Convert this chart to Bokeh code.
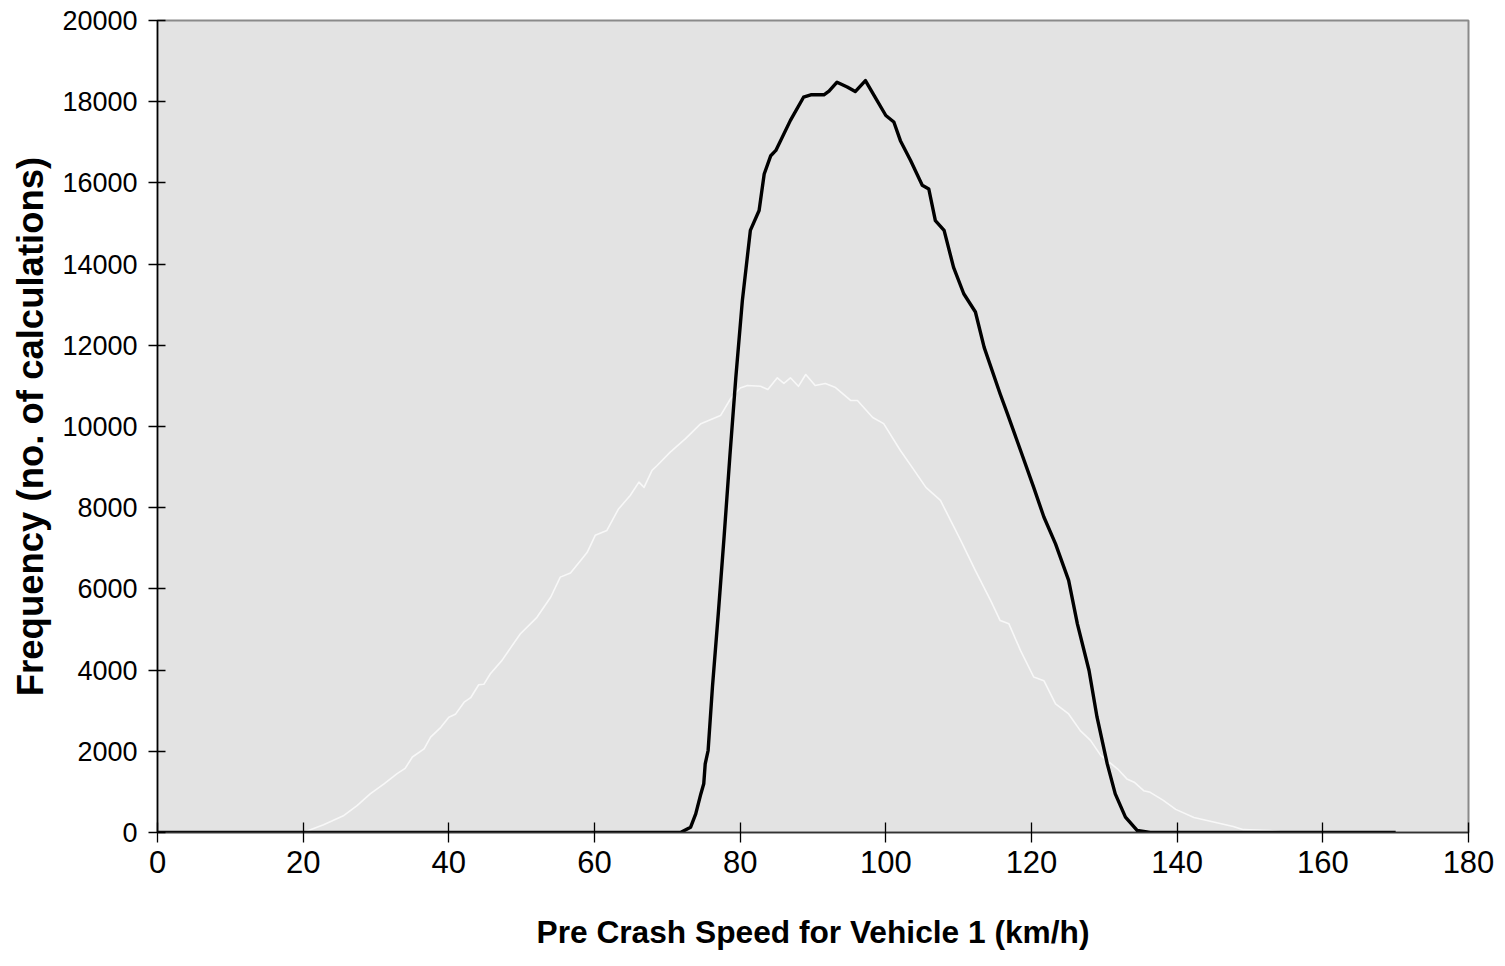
from bokeh.plotting import figure
from bokeh.models import Range1d, FixedTicker, ColumnDataSource
from bokeh.embed import file_html
from bokeh.resources import INLINE

# Series 1 (black, thick): pre-crash speed (km/h) vs frequency
speed_v1 = [0, 71.0, 71.8, 73.2, 73.9, 74.6, 75.0, 75.2, 75.6, 76.2, 77.0, 77.8, 78.6, 79.4, 80.3,
            81.4, 82.6, 83.3, 84.2, 84.9, 86.9, 88.7, 89.7, 91.5, 92.2, 93.3, 94.7, 95.8, 97.2,
            98.4, 100.0, 101.1, 102.0, 103.4, 105.0, 105.9, 106.8, 108.0, 109.3, 110.7, 112.3,
            113.5, 115.7, 116.7, 118.5, 120.3, 121.7, 123.3, 125.1, 126.3, 127.9, 129.0, 130.4,
            131.5, 132.9, 134.5, 136.3, 170]
freq_v1 = [0, 0, 0, 130, 460, 950, 1200, 1690, 2020, 3600, 5400, 7300, 9300, 11200, 13100,
           14830, 15320, 16220, 16670, 16800, 17540, 18110, 18170, 18170, 18260, 18480, 18360,
           18250, 18520, 18150, 17660, 17500, 17040, 16550, 15940, 15850, 15070, 14830, 13920,
           13270, 12820, 11950, 10800, 10310, 9410, 8500, 7770, 7110, 6210, 5140, 3990, 2840,
           1690, 950, 380, 50, 0, 0]

# Series 2 (white, thin)
speed_v2 = [0, 20.0, 22.8, 25.6, 27.4, 29.2, 31.1, 32.9, 34.0, 35.0, 36.6, 37.5, 38.9, 40.0, 40.9,
            42.1, 43.0, 44.1, 44.8, 45.7, 47.3, 49.8, 52.1, 54.0, 55.3, 56.7, 58.1, 59.0, 60.1,
            61.7, 63.3, 64.9, 66.1, 66.8, 67.9, 68.6, 70.4, 72.5, 74.6, 77.3, 78.7, 80.0, 81.0,
            82.8, 83.8, 85.1, 86.0, 86.9, 88.0, 89.0, 90.3, 91.7, 93.1, 95.2, 96.1, 98.2, 99.7,
            102.0, 103.9, 105.5, 107.5, 110.3, 112.3, 114.4, 115.7, 116.9, 118.5, 120.3, 121.7,
            123.3, 125.1, 126.7, 128.1, 129.5, 131.8, 133.1, 134.1, 135.4, 136.3, 138.1, 139.8,
            142.3, 147.7, 149.1, 152.8, 155.0, 170]
freq_v2 = [0, 0, 190, 420, 660, 950, 1200, 1450, 1580, 1860, 2060, 2350, 2590, 2840, 2910,
           3210, 3320, 3640, 3650, 3910, 4240, 4890, 5300, 5800, 6290, 6390, 6700, 6900, 7320,
           7440, 7970, 8300, 8630, 8500, 8920, 9040, 9370, 9700, 10070, 10270, 10690, 10950, 11010,
           10990, 10910, 11200, 11060, 11200, 10990, 11280, 11010, 11060, 10960, 10640, 10640,
           10220, 10070, 9410, 8920, 8500, 8180, 7190, 6450, 5710, 5220, 5140, 4480, 3830, 3740,
           3170, 2920, 2510, 2270, 1900, 1570, 1320, 1240, 1030, 990, 790, 570, 370, 150, 70,
           50, 0, 0]

x_ticks = [0, 20, 40, 60, 80, 100, 120, 140, 160, 180]
y_ticks = [0, 2000, 4000, 6000, 8000, 10000, 12000, 14000, 16000, 18000, 20000]

p = figure(width=1505, height=966, output_backend="svg", toolbar_location=None,
           x_range=Range1d(0, 180), y_range=Range1d(0, 20000),
           min_border_left=157, min_border_right=37, min_border_top=20, min_border_bottom=134)

p.background_fill_color = "#e3e3e3"
p.border_fill_color = "white"
p.outline_line_color = "#8a8a8a"
p.outline_line_width = 2
p.grid.visible = False

src2 = ColumnDataSource(dict(x=speed_v2, y=freq_v2))
src1 = ColumnDataSource(dict(x=speed_v1, y=freq_v1))
p.line("x", "y", source=src2, line_color="#f8f8f8", line_width=1.6, line_join="round")
p.line("x", "y", source=src1, line_color="black", line_width=3.4, line_join="round")

font = "Liberation Sans"
xa = p.xaxis[0]
xa.ticker = FixedTicker(ticks=x_ticks)
xa.axis_label = "Pre Crash Speed for Vehicle 1 (km/h)"
xa.axis_label_text_font = font
xa.axis_label_text_font_style = "bold"
xa.axis_label_text_font_size = "31.7px"
xa.axis_label_text_color = "black"
xa.axis_label_standoff = 38
xa.major_label_text_font = font
xa.major_label_text_font_size = "31px"
xa.major_label_text_color = "black"
xa.major_label_standoff = 8
xa.major_tick_in = 10
xa.major_tick_out = 10
xa.major_tick_line_color = "black"
xa.major_tick_line_width = 1.3
xa.minor_tick_line_color = None
xa.axis_line_color = "#333333"
xa.axis_line_width = 1.5

ya = p.yaxis[0]
ya.ticker = FixedTicker(ticks=y_ticks)
ya.axis_label = "Frequency (no. of calculations)"
ya.axis_label_text_font = font
ya.axis_label_text_font_style = "bold"
ya.axis_label_text_font_size = "36.5px"
ya.axis_label_text_color = "black"
ya.axis_label_standoff = 8
ya.major_label_text_font = font
ya.major_label_text_font_size = "27px"
ya.major_label_text_color = "black"
ya.major_label_standoff = 11
ya.major_tick_in = 8
ya.major_tick_out = 9
ya.major_tick_line_color = "black"
ya.major_tick_line_width = 1.3
ya.minor_tick_line_color = None
ya.axis_line_color = "black"
ya.axis_line_width = 1.5

open("out.html", "w").write(file_html(p, INLINE))
